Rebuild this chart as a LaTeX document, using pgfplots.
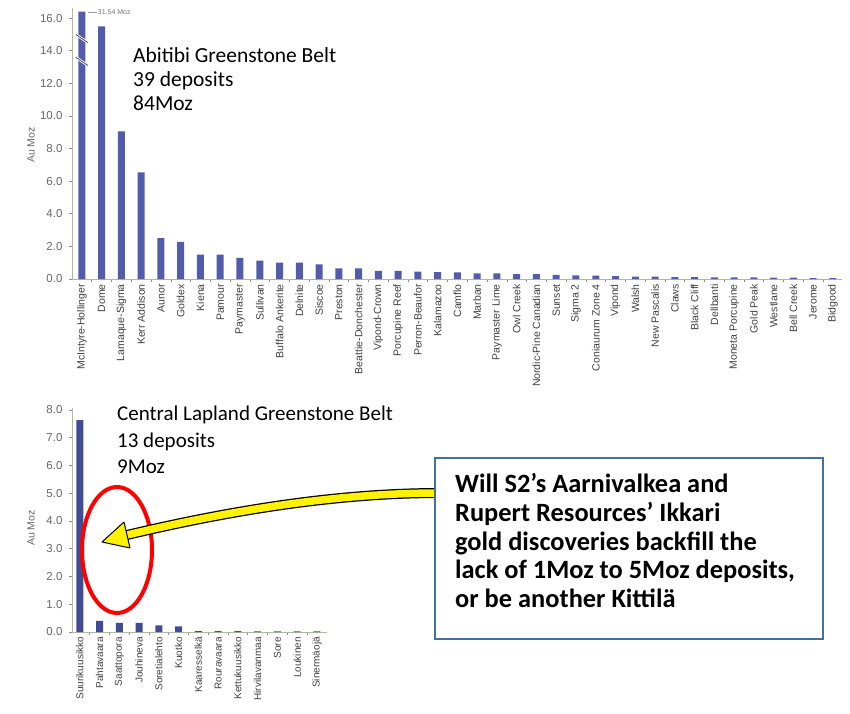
\documentclass[border=0pt]{standalone}
\usepackage{fontspec}
\setmainfont{Carlito}
\newfontfamily\arialf{Liberation Sans}
\usepackage{pgfplots}
\usepackage{pgfplotstable}
\pgfplotsset{compat=1.18}

\definecolor{barblue}{RGB}{82,92,170}
\definecolor{bardark}{RGB}{66,76,148}
\definecolor{boxblue}{RGB}{65,113,156}
\definecolor{axgray}{RGB}{175,185,160}

% Abitibi deposits, Moz (first bar is 31.54 Moz, cut at the axis top)
\pgfplotstableread[col sep=comma]{
idx,val,name
0,16.4,McIntyre-Hollinger
1,15.5,Dome
2,9.06,Lamaque-Sigma
3,6.54,Kerr Addison
4,2.50,Aunor
5,2.28,Goldex
6,1.50,Kiena
7,1.50,Pamour
8,1.30,Paymaster
9,1.13,Sullivan
10,1.00,Buffalo Ankerite
11,1.00,Delnite
12,0.90,Siscoe
13,0.65,Preston
14,0.65,Beattie-Donchester
15,0.50,Vipond-Crown
16,0.50,Porcupine Reef
17,0.45,Perron-Beaufor
18,0.42,Kalamazoo
19,0.40,Camflo
20,0.35,Marban
21,0.35,Paymaster Lime
22,0.30,Owl Creek
23,0.30,Nordic-Pine Canadian
24,0.25,Sunset
25,0.22,Sigma 2
26,0.20,Coniaurum Zone 4
27,0.18,Vipond
28,0.15,Walsh
29,0.15,New Pascalis
30,0.12,Claws
31,0.12,Black Cliff
32,0.10,Dellbanti
33,0.10,Moneta Porcupine
34,0.10,Gold Peak
35,0.08,Westlane
36,0.08,Bell Creek
37,0.06,Jerome
38,0.05,Bidgood
}\topdata

% Central Lapland deposits, Moz
\pgfplotstableread[col sep=comma]{
idx,val,name
0,7.63,Suurikuusikko
1,0.40,Pahtavaara
2,0.33,Saattopora
3,0.33,Jouhineva
4,0.24,Soretialehto
5,0.20,Kuotko
6,0.03,Kaaresselkä
7,0.03,Rouravaara
8,0.03,Kettukuusikko
9,0.02,Hirvilavanmaa
10,0.02,Sore
11,0.02,Loukinen
12,0.02,Sinermäojä
}\lapdata

\pgfplotsset{chartstyle/.style={
    scale only axis,
    axis lines*=left,
    axis line style={axgray, line width=0.8pt},
    ybar, bar width=7pt, ymin=0,
    tick align=outside,
    major tick length=3pt, minor tick length=3pt,
    tick style={black!45, line width=0.6pt},
    major x tick style={draw=none},
    xticklabel style={rotate=90, anchor=east, inner sep=2pt,
        font=\arialf\fontsize{10.5}{11}\selectfont, text=black!75},
    yticklabel style={font=\arialf\fontsize{11.5}{12}\selectfont, text=black!60,
        xshift=-3pt,
        /pgf/number format/.cd, fixed, fixed zerofill, precision=1},
    /pgf/number format/assume math mode=true,
    clip=false,
}}

\begin{document}
\begin{tikzpicture}
\useasboundingbox (0,0) rectangle (850pt,713pt);

% top chart
\begin{axis}[chartstyle,
    at={(72pt,434pt)}, anchor=south west,
    width=770pt, height=270.6pt,
    xmin=-0.5, xmax=38.46, ymax=16.6,
    ytick={0,2,...,16},
    xtick={0,...,38},
    minor xtick={0.5,1.5,...,37.5},
    xticklabels from table={\topdata}{name},
]
\addplot[fill=barblue, draw=none] table[x=idx, y=val] {\topdata};
\draw[white, line width=2.5pt] (axis cs:-0.3,15.0) -- (axis cs:0.3,14.5);
\draw[black!70, line width=0.8pt] (axis cs:-0.3,15.0) -- (axis cs:0.3,14.5);
\draw[white, line width=2.5pt] (axis cs:-0.3,13.6) -- (axis cs:0.3,13.1);
\draw[black!70, line width=0.8pt] (axis cs:-0.3,13.6) -- (axis cs:0.3,13.1);
\draw[black!40, line width=0.5pt] (axis cs:0.3,16.35) -- (axis cs:0.75,16.35);
\node[anchor=west, inner sep=1pt, font=\arialf\fontsize{7}{8}\selectfont, text=black!55]
    at (axis cs:0.75,16.35) {31.54 Moz};
\end{axis}

% bottom chart
\begin{axis}[chartstyle,
    at={(72pt,81pt)}, anchor=south west,
    width=254.8pt, height=224pt,
    xmin=-0.4, xmax=12.5, ymax=8.07,
    ytick={0,1,...,8},
    xtick={0,...,12},
    minor xtick={0.5,1.5,...,11.5},
    xticklabels from table={\lapdata}{name},
    xticklabel style={font=\arialf\fontsize{10}{11}\selectfont},
]
\addplot[fill=bardark, draw=none] table[x=idx, y=val] {\lapdata};
\end{axis}

% axis titles
\node[rotate=90, font=\arialf\fontsize{10.5}{11}\selectfont, text=black!60] at (31pt,568pt) {Au Moz};
\node[rotate=90, font=\arialf\fontsize{10.5}{11}\selectfont, text=black!60] at (31pt,185pt) {Au Moz};

% belt captions
\node[anchor=north west, inner sep=0pt, align=left, font=\fontsize{21.5}{24}\selectfont]
    at (133pt,666pt) {Abitibi Greenstone Belt\\39 deposits\\84Moz};
\node[anchor=north west, inner sep=0pt, align=left, font=\fontsize{21}{26.5}\selectfont]
    at (117pt,307pt) {Central Lapland Greenstone Belt\\13 deposits\\9Moz};

% red ellipse
\draw[red, line width=4pt] (117pt,163pt) ellipse [x radius=35pt, y radius=63pt];

% yellow arrow
\draw[black, line width=10pt] (440pt,220pt) .. controls (330pt,220pt) and (220pt,200pt) .. (127pt,178pt);
\draw[yellow, line width=7.5pt] (440pt,220pt) .. controls (330pt,220pt) and (220pt,200pt) .. (127pt,178pt);
\filldraw[fill=yellow, draw=black, line width=1pt, line join=round]
    (102pt,171pt) -- (124pt,191pt) -- (130pt,165pt) -- cycle;

% question box
\filldraw[fill=white, draw=boxblue, line width=1.5pt] (435pt,74pt) rectangle (823pt,255pt);
\node[anchor=north west, inner sep=0pt, align=left, font=\bfseries\fontsize{26.4}{28.8}\selectfont]
    at (455pt,240pt) {Will S2’s Aarnivalkea and\\Rupert Resources’ Ikkari\\gold discoveries backfill the\\lack of 1Moz to 5Moz deposits,\\or be another Kittilä};
\end{tikzpicture}
\end{document}
